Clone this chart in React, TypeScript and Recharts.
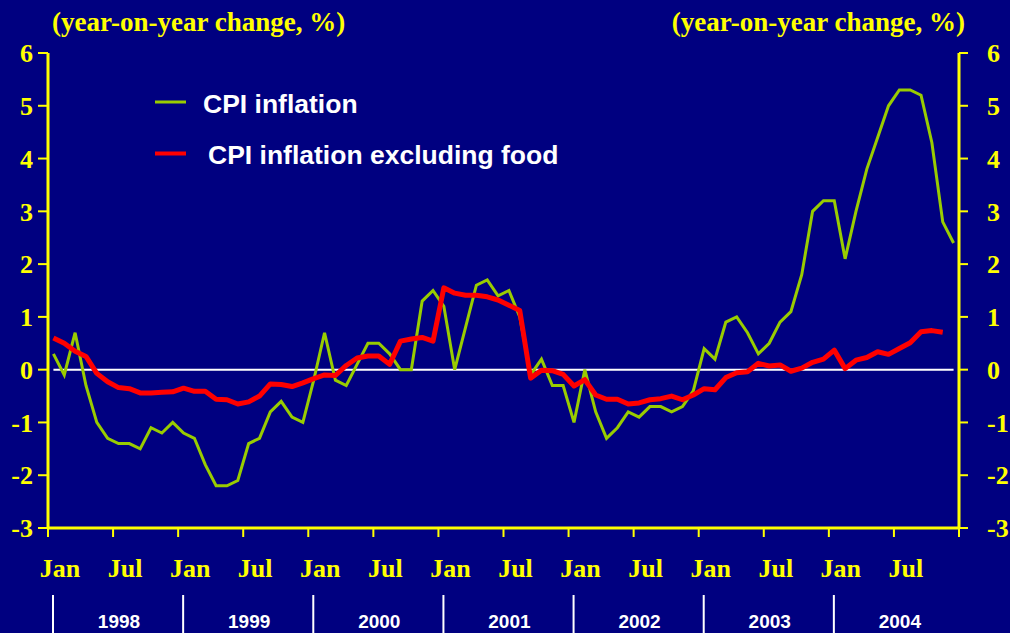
import { LineChart, Line, XAxis, YAxis, ReferenceLine } from 'recharts'

const NAVY = '#000080'
const YELLOW = '#FFFF00'
const GREEN = '#99CC00'
const RED = '#FF0000'
const SERIF = '"Liberation Serif", "Times New Roman", serif'
const SANS = '"Liberation Sans", Arial, sans-serif'

// monthly, Jan 1998 .. Dec 2004
const cpiInflation = [
  0.3, -0.1, 0.7, -0.3, -1.0, -1.3, -1.4, -1.4, -1.5, -1.1, -1.2, -1.0,
  -1.2, -1.3, -1.8, -2.2, -2.2, -2.1, -1.4, -1.3, -0.8, -0.6, -0.9, -1.0,
  -0.2, 0.7, -0.2, -0.3, 0.1, 0.5, 0.5, 0.3, 0.0, 0.0, 1.3, 1.5,
  1.2, 0.0, 0.8, 1.6, 1.7, 1.4, 1.5, 1.0, -0.1, 0.2, -0.3, -0.3,
  -1.0, 0.0, -0.8, -1.3, -1.1, -0.8, -0.9, -0.7, -0.7, -0.8, -0.7, -0.4,
  0.4, 0.2, 0.9, 1.0, 0.7, 0.3, 0.5, 0.9, 1.1, 1.8, 3.0, 3.2,
  3.2, 2.1, 3.0, 3.8, 4.4, 5.0, 5.3, 5.3, 5.2, 4.3, 2.8, 2.4,
]

const cpiExFood = [
  0.6, 0.5, 0.35, 0.25, -0.07, -0.23, -0.34, -0.36, -0.44, -0.44, -0.43, -0.42,
  -0.35, -0.41, -0.41, -0.56, -0.57, -0.65, -0.61, -0.5, -0.27, -0.28, -0.32, -0.25,
  -0.17, -0.1, -0.11, 0.08, 0.22, 0.26, 0.26, 0.1, 0.54, 0.58, 0.61, 0.54,
  1.55, 1.45, 1.41, 1.41, 1.38, 1.32, 1.22, 1.12, -0.16, -0.01, -0.02, -0.09,
  -0.31, -0.19, -0.48, -0.56, -0.56, -0.65, -0.63, -0.57, -0.55, -0.5, -0.57, -0.48,
  -0.36, -0.38, -0.15, -0.06, -0.04, 0.12, 0.07, 0.09, -0.03, 0.03, 0.14, 0.2,
  0.37, 0.02, 0.18, 0.23, 0.34, 0.29, 0.4, 0.51, 0.72, 0.74, 0.71, null,
]

const monthLabels = ['Jan', 'Jul', 'Jan', 'Jul', 'Jan', 'Jul', 'Jan', 'Jul', 'Jan', 'Jul', 'Jan', 'Jul', 'Jan', 'Jul']
const years = ['1998', '1999', '2000', '2001', '2002', '2003', '2004']
const yTicks = [-3, -2, -1, 0, 1, 2, 3, 4, 5, 6]

const data = cpiInflation.map((v, i) => ({ t: i + 0.5, cpi: v, core: cpiExFood[i] }))
const xTicks = Array.from({ length: monthLabels.length + 1 }, (_, k) => k * 6)

function MonthTick(props: any) {
  const { x, y, payload } = props
  const k = Math.round(payload.value / 6)
  const label = monthLabels[k]
  if (!label) return null
  const isJan = k % 2 === 0
  const year = isJan ? years[k / 2] : null
  return (
    <g>
      <text x={x + 12} y={y + 40} textAnchor="middle" fill={YELLOW} fontFamily={SERIF} fontWeight="bold" fontSize={26}>
        {label}
      </text>
      {year && (
        <>
          <line x1={x + 5} x2={x + 5} y1={y + 58} y2={y + 96} stroke="#ffffff" strokeWidth={2} />
          <text x={x + 71} y={y + 91} textAnchor="middle" fill="#ffffff" fontFamily={SANS} fontWeight="bold" fontSize={19}>
            {year}
          </text>
        </>
      )}
    </g>
  )
}

const yTickStyle = { fill: YELLOW, fontFamily: SERIF, fontWeight: 'bold', fontSize: 26 }

export default function App() {
  return (
    <div style={{ position: 'absolute', left: 0, top: 0, width: 1010, height: 633, background: NAVY, overflow: 'hidden' }}>
      <LineChart width={1010} height={633} data={data} margin={{ top: 53, right: 0, bottom: 0, left: 0 }}>
        <XAxis
          dataKey="t"
          type="number"
          domain={[0, 84]}
          ticks={xTicks}
          interval={0}
          height={105}
          tickSize={9}
          tickMargin={0}
          axisLine={{ stroke: YELLOW, strokeWidth: 3 }}
          tickLine={{ stroke: YELLOW, strokeWidth: 2 }}
          tick={<MonthTick />}
        />
        <YAxis
          yAxisId="l"
          domain={[-3, 6]}
          ticks={yTicks}
          interval={0}
          width={48}
          tickSize={10}
          tickMargin={5}
          axisLine={{ stroke: YELLOW, strokeWidth: 3 }}
          tickLine={{ stroke: YELLOW, strokeWidth: 2 }}
          tick={yTickStyle}
        />
        <YAxis
          yAxisId="r"
          orientation="right"
          domain={[-3, 6]}
          ticks={yTicks}
          interval={0}
          width={51}
          tickSize={9}
          tickMargin={19}
          axisLine={{ stroke: YELLOW, strokeWidth: 3 }}
          tickLine={{ stroke: YELLOW, strokeWidth: 2 }}
          tick={yTickStyle}
        />
        <ReferenceLine
          yAxisId="l"
          segment={[{ x: 0.5, y: 0 }, { x: 83.5, y: 0 }]}
          stroke="#ffffff"
          strokeWidth={2}
        />
        {/* invisible copy so the right-hand axis gets its scale */}
        <Line yAxisId="r" dataKey="cpi" stroke="none" strokeWidth={0} dot={false} activeDot={false} legendType="none" isAnimationActive={false} />
        <Line yAxisId="l" dataKey="cpi" stroke={GREEN} strokeWidth={3} dot={false} isAnimationActive={false} />
        <Line yAxisId="l" dataKey="core" stroke={RED} strokeWidth={5} strokeLinejoin="round" dot={false} isAnimationActive={false} />
      </LineChart>
      <svg width={1010} height={633} style={{ position: 'absolute', left: 0, top: 0, pointerEvents: 'none' }}>
        <text x={52} y={31} fill={YELLOW} fontFamily={SERIF} fontWeight="bold" fontSize={27}>(year-on-year change, %)</text>
        <text x={965} y={31} textAnchor="end" fill={YELLOW} fontFamily={SERIF} fontWeight="bold" fontSize={27}>(year-on-year change, %)</text>
        <line x1={155} x2={186} y1={102} y2={102} stroke={GREEN} strokeWidth={3} />
        <text x={203} y={113} fill="#ffffff" fontFamily={SANS} fontWeight="bold" fontSize={26.5}>CPI inflation</text>
        <line x1={155} x2={186} y1={153.5} y2={153.5} stroke={RED} strokeWidth={4} />
        <text x={208} y={163.5} fill="#ffffff" fontFamily={SANS} fontWeight="bold" fontSize={26.5}>CPI inflation excluding food</text>
      </svg>
    </div>
  )
}
